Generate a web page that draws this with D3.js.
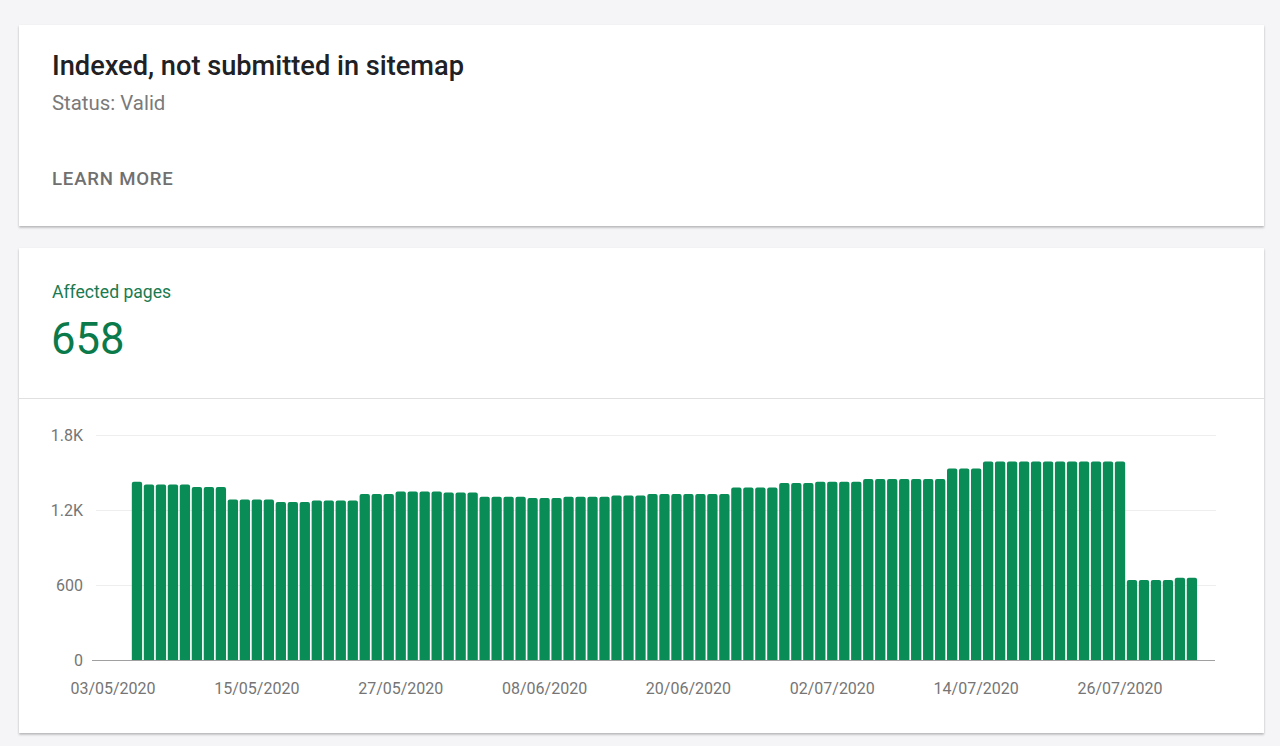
<!DOCTYPE html>
<html>
<head>
<meta charset="utf-8">
<script src="https://cdn.jsdelivr.net/npm/d3@7"></script>
<style>
  html, body { margin: 0; padding: 0; background: #f5f4f7; }
  svg { display: block; font-family: Roboto, "Noto Sans", sans-serif; }
</style>
</head>
<body>
<svg id="chart" width="1280" height="746"></svg>
<script>
// ---- data ----
const title = "Indexed, not submitted in sitemap";
const statusText = "Status: Valid";
const linkText = "LEARN MORE";
const metricLabel = "Affected pages";
const metricValue = "658";

const firstDay = "2020-05-05";
const values = [
  1427,
  1405, 1405, 1405, 1405,
  1384, 1384, 1384,
  1285, 1285, 1285, 1285,
  1264, 1264, 1264,
  1277, 1277, 1277, 1277,
  1328, 1328, 1328,
  1349, 1349, 1349, 1349,
  1341, 1341, 1341,
  1307, 1307, 1307, 1307,
  1296, 1296, 1296,
  1307, 1307, 1307, 1307,
  1317, 1317, 1317,
  1328, 1328, 1328, 1328, 1328, 1328, 1328,
  1381, 1381, 1381, 1381,
  1416, 1416, 1416,
  1427, 1427, 1427, 1427,
  1448, 1448, 1448, 1448, 1448, 1448, 1448,
  1533, 1533, 1533,
  1589, 1589, 1589, 1589, 1589, 1589, 1589, 1589, 1589, 1589, 1589, 1589,
  640, 640, 640, 640,
  658, 658
];
const xTickLabels = ["03/05/2020", "15/05/2020", "27/05/2020", "08/06/2020",
                     "20/06/2020", "02/07/2020", "14/07/2020", "26/07/2020"];
const yTickValues = [0, 600, 1200, 1800];
const yTickLabels = ["0", "600", "1.2K", "1.8K"];

// ---- setup ----
const parseISO = d3.timeParse("%Y-%m-%d");
const parseDMY = d3.timeParse("%d/%m/%Y");
const start = parseISO(firstDay);
const dates = d3.timeDay.range(start, d3.timeDay.offset(start, values.length));
const data = dates.map((d, i) => ({ date: d, value: values[i] }));
const tickDates = xTickLabels.map(parseDMY);

const svg = d3.select("#chart");

// shadow filter
const defs = svg.append("defs");
const f = defs.append("filter").attr("id", "shadow")
  .attr("x", "-5%").attr("y", "-5%").attr("width", "110%").attr("height", "115%");
f.append("feDropShadow").attr("dx", 0).attr("dy", 1.5).attr("stdDeviation", 1.2)
  .attr("flood-color", "#000").attr("flood-opacity", 0.28);

// cards
svg.append("rect").attr("x", 19).attr("y", 25).attr("width", 1245).attr("height", 201)
  .attr("fill", "#fff").attr("filter", "url(#shadow)");
svg.append("rect").attr("x", 19).attr("y", 248).attr("width", 1245).attr("height", 485)
  .attr("fill", "#fff").attr("filter", "url(#shadow)");

// card 1 text
svg.append("text").attr("x", 52).attr("y", 75).text(title)
  .attr("font-size", 27.2).attr("font-weight", 500).attr("fill", "#202124");
svg.append("text").attr("x", 52).attr("y", 110).text(statusText)
  .attr("font-size", 20.4).attr("fill", "#7a7a7a");
svg.append("text").attr("x", 52).attr("y", 185).text(linkText)
  .attr("font-size", 18.6).attr("font-weight", 500).attr("letter-spacing", 0.8)
  .attr("fill", "#707070");

// card 2 header
svg.append("text").attr("x", 52).attr("y", 298).text(metricLabel)
  .attr("font-size", 17.6).attr("fill", "#1a7a50");
svg.append("text").attr("x", 51).attr("y", 354).text(metricValue)
  .attr("font-size", 43.6).attr("fill", "#0b7a4b");
svg.append("line").attr("x1", 19).attr("x2", 1264).attr("y1", 398.5).attr("y2", 398.5)
  .attr("stroke", "#e0e0e0").attr("stroke-width", 1);

// ---- scales ----
const x = d3.scaleTime()
  .domain([parseDMY("03/05/2020"), parseDMY("26/07/2020")])
  .range([113, 1120]);
const y = d3.scaleLinear().domain([0, 1800]).range([660, 435]);
const plotLeft = 92, plotRight = 1215;

// gridlines
svg.append("g").selectAll("line").data(yTickValues.filter(v => v > 0)).join("line")
  .attr("x1", plotLeft + 4).attr("x2", plotRight + 1)
  .attr("y1", d => y(d) + 0.5).attr("y2", d => y(d) + 0.5)
  .attr("stroke", "#eeeeee").attr("stroke-width", 1);

// y labels
svg.append("g").selectAll("text").data(yTickValues).join("text")
  .attr("x", 83).attr("y", d => y(d)).attr("dy", "0.36em")
  .attr("text-anchor", "end").attr("font-size", 16).attr("fill", "#757575")
  .text((d, i) => yTickLabels[i]);

// bars
const step = x(d3.timeDay.offset(start, 1)) - x(start);
const bw = step * 0.86;
const r = 2;
svg.append("g").selectAll("path").data(data).join("path")
  .attr("fill", "#0a8c57")
  .attr("d", d => {
    const x0 = x(d.date) - bw / 2, x1 = x0 + bw;
    const y0 = y(0), yt = y(d.value);
    return `M${x0},${y0}V${yt + r}Q${x0},${yt} ${x0 + r},${yt}H${x1 - r}Q${x1},${yt} ${x1},${yt + r}V${y0}Z`;
  });

// baseline
svg.append("line").attr("x1", plotLeft).attr("x2", plotRight)
  .attr("y1", y(0) + 0.5).attr("y2", y(0) + 0.5)
  .attr("stroke", "#a0a0a0").attr("stroke-width", 1.2);

// x labels
svg.append("g").selectAll("text").data(tickDates).join("text")
  .attr("x", d => x(d)).attr("y", 694)
  .attr("text-anchor", "middle").attr("font-size", 16).attr("fill", "#757575")
  .text((d, i) => xTickLabels[i]);
</script>
</body>
</html>
